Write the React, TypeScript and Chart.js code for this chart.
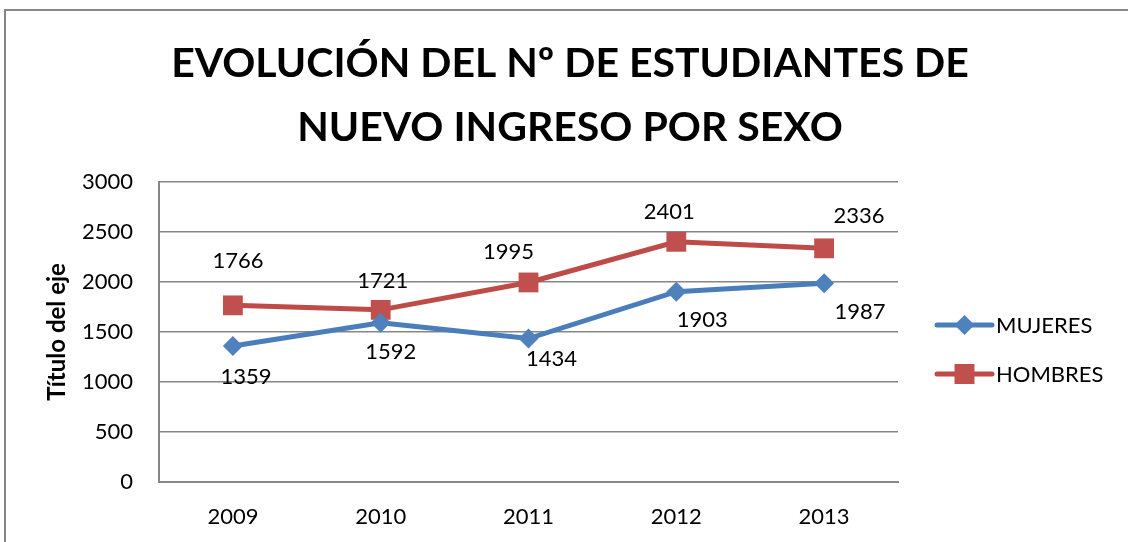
import React, { useEffect, useRef } from "react";
import { Chart, registerables } from "chart.js";

Chart.register(...registerables);

const years = ["2009", "2010", "2011", "2012", "2013"];
const mujeres = [1359, 1592, 1434, 1903, 1987];
const hombres = [1766, 1721, 1995, 2401, 2336];
const seriesNames = ["MUJERES", "HOMBRES"];
const titleLines = ["EVOLUCIÓN DEL Nº DE ESTUDIANTES DE", "NUEVO INGRESO POR SEXO"];
const yAxisTitle = "Título del eje";

// label placement offsets (pixels, style only)
const labelOffsets = [
  { dx: [13, 10, 23, 26, 36], dy: [31, 29, 20, 28, 29] },
  { dx: [5, 2, -20, -7, 35], dy: [-44, -29, -31, -30, -32] },
];

const FONT = "Lato, 'Open Sans', sans-serif";
const BLUE = "#4F81BD";
const BLUE_LINE = "#4A7EBB";
const RED = "#C0504D";
const RED_LINE = "#BE4B48";
const GRAY = "#868686";

const framePlugin = {
  id: "frame",
  beforeDraw(chart: any) {
    const { ctx } = chart;
    ctx.save();
    ctx.fillStyle = "#ffffff";
    ctx.fillRect(0, 0, chart.width, chart.height);
    ctx.strokeStyle = GRAY;
    ctx.lineWidth = 2;
    ctx.strokeRect(5, 10, chart.width + 50, chart.height + 50);
    ctx.restore();
  },
};

const dataLabelPlugin = {
  id: "dataLabels",
  afterDatasetsDraw(chart: any) {
    const { ctx } = chart;
    ctx.save();
    ctx.font = `22px ${FONT}`;
    ctx.fillStyle = "#000";
    ctx.textAlign = "center";
    ctx.textBaseline = "middle";
    chart.data.datasets.forEach((ds: any, di: number) => {
      const meta = chart.getDatasetMeta(di);
      meta.data.forEach((pt: any, i: number) => {
        const off = labelOffsets[di];
        ctx.fillText(String(ds.data[i]), pt.x + off.dx[i], pt.y + off.dy[i]);
      });
    });
    ctx.restore();
  },
};

const legendPlugin = {
  id: "customLegend",
  afterDraw(chart: any) {
    const { ctx, chartArea } = chart;
    const x0 = chartArea.right + 39;
    const x1 = chartArea.right + 94;
    const ys = [325, 374];
    ctx.save();
    chart.data.datasets.forEach((ds: any, di: number) => {
      const y = ys[di];
      ctx.strokeStyle = ds.borderColor;
      ctx.lineWidth = 5;
      ctx.lineCap = "round";
      ctx.beginPath();
      ctx.moveTo(x0, y);
      ctx.lineTo(x1, y);
      ctx.stroke();
      ctx.fillStyle = ds.pointBackgroundColor;
      const cx = (x0 + x1) / 2;
      ctx.beginPath();
      if (ds.pointStyle === "rectRot") {
        ctx.moveTo(cx - 10, y);
        ctx.lineTo(cx, y - 10);
        ctx.lineTo(cx + 10, y);
        ctx.lineTo(cx, y + 10);
        ctx.closePath();
      } else {
        ctx.rect(cx - 10, y - 10, 20, 20);
      }
      ctx.fill();
      ctx.fillStyle = "#000";
      ctx.font = `22px ${FONT}`;
      ctx.textAlign = "left";
      ctx.textBaseline = "middle";
      ctx.fillText(ds.label, x1 + 4, y + 1);
    });
    ctx.restore();
  },
};

export default function App() {
  const ref = useRef<HTMLCanvasElement | null>(null);
  useEffect(() => {
    if (!ref.current) return;
    const chart = new Chart(ref.current, {
      type: "line",
      data: {
        labels: years,
        datasets: [
          {
            label: seriesNames[0],
            data: mujeres,
            borderColor: BLUE_LINE,
            backgroundColor: BLUE,
            pointBackgroundColor: BLUE,
            pointBorderColor: BLUE,
            pointBorderWidth: 0,
            pointStyle: "rectRot",
            pointRadius: 10,
            borderWidth: 5,
            tension: 0,
          },
          {
            label: seriesNames[1],
            data: hombres,
            borderColor: RED_LINE,
            backgroundColor: RED,
            pointBackgroundColor: RED,
            pointBorderColor: RED,
            pointBorderWidth: 0,
            pointStyle: "rect",
            pointRadius: 14,
            borderWidth: 5,
            tension: 0,
          },
        ],
      },
      options: {
        responsive: false,
        animation: false,
        layout: { padding: { left: 12, right: 0, top: 0, bottom: 0 } },
        plugins: {
          legend: { display: false },
          tooltip: { enabled: false },
          title: {
            display: true,
            text: titleLines,
            color: "#000",
            font: { family: FONT, size: 41, weight: "bold", lineHeight: 1.56 },
            padding: { top: 32, bottom: 22 },
          },
        },
        scales: {
          x: {
            offset: true,
            grid: { display: false, drawTicks: false },
            border: { display: true, color: GRAY, width: 2 },
            ticks: { color: "#000", font: { family: FONT, size: 22 }, padding: 22 },
            afterFit(scale: any) {
              scale.height = 60;
            },
          },
          y: {
            min: 0,
            max: 3000,
            ticks: {
              stepSize: 500,
              color: "#000",
              font: { family: FONT, size: 22 },
              padding: 26,
              callback: (v: any) => String(v),
            },
            grid: { color: GRAY, lineWidth: 1.5, drawTicks: false },
            border: { display: true, color: GRAY, width: 2 },
            title: {
              display: true,
              text: yAxisTitle,
              color: "#000",
              font: { family: FONT, size: 24, weight: "bold" },
              padding: { top: 31, bottom: 0 },
            },
            afterFit(scale: any) {
              scale.width = 147;
            },
          },
          legendSpace: {
            type: "linear",
            position: "right",
            display: true,
            grid: { display: false, drawTicks: false },
            border: { display: false },
            ticks: { display: false },
            afterFit(scale: any) {
              scale.width = 230;
            },
          },
        },
      },
      plugins: [framePlugin, dataLabelPlugin, legendPlugin],
    });
    return () => chart.destroy();
  }, []);
  return (
    <canvas
      ref={ref}
      width={1128}
      height={542}
      style={{ position: "absolute", left: 0, top: 0, display: "block" }}
    />
  );
}
